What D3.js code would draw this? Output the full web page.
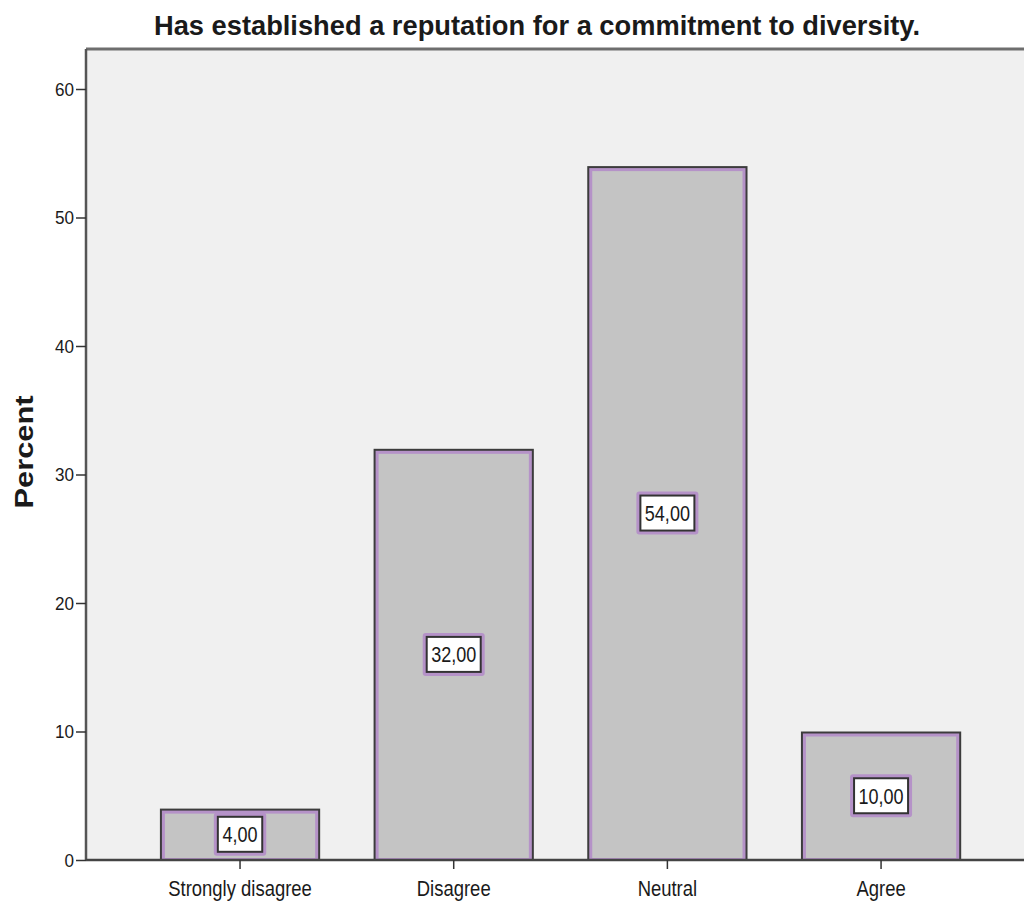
<!DOCTYPE html>
<html>
<head>
<meta charset="utf-8">
<script src="https://cdn.jsdelivr.net/npm/d3@7"></script>
<style>
  html, body { margin: 0; padding: 0; background: #ffffff; }
  svg { display: block; }
  text { font-family: "Liberation Sans", Arial, sans-serif; fill: #1a1a1a; }
</style>
</head>
<body>
<svg id="chart" width="1024" height="903"></svg>
<script>
// Response categories and their share of respondents (%)
const categories = ["Strongly disagree", "Disagree", "Neutral", "Agree"];
const percents = [4, 32, 54, 10];
const yTicks = [0, 10, 20, 30, 40, 50, 60];
const chartTitle = "Has established a reputation for a commitment to diversity.";
const yTitle = "Percent";

const svg = d3.select("#chart");
const W = 1024, H = 903;

const frame = { left: 86, top: 49, right: 1030, bottom: 860 };

const y = d3.scaleLinear().domain([0, 60]).range([860, 89]);
const x = d3.scaleBand()
  .domain(categories)
  .range([133.2, 987.9])
  .paddingInner(0.25)
  .paddingOuter(0.125);

// Squeeze a text element horizontally around its own x anchor
function condense(sel, sx) {
  sel.each(function () {
    const t = d3.select(this);
    const x0 = +(t.attr("x") || 0);
    t.attr("x", x0 / sx).attr("transform", `scale(${sx},1)`);
  });
}

// Plot background
svg.append("rect")
  .attr("x", frame.left).attr("y", frame.top)
  .attr("width", frame.right - frame.left).attr("height", frame.bottom - frame.top)
  .attr("fill", "#f0f0f0");

// Top frame edge
svg.append("line")
  .attr("x1", frame.left).attr("x2", W)
  .attr("y1", frame.top).attr("y2", frame.top)
  .attr("stroke", "#6e6e6e").attr("stroke-width", 3);

// Bars
const bars = svg.append("g");
categories.forEach((c, i) => {
  const x0 = x(c), bw = x.bandwidth();
  const y0 = y(percents[i]), h = y(0) - y(percents[i]);
  // outer dark edge
  bars.append("rect")
    .attr("x", x0).attr("y", y0).attr("width", bw).attr("height", h)
    .attr("fill", "#3c3c3c");
  // purple inner border
  bars.append("rect")
    .attr("x", x0 + 2).attr("y", y0 + 2).attr("width", bw - 4).attr("height", h - 2)
    .attr("fill", "#b592c8");
  // grey fill
  bars.append("rect")
    .attr("x", x0 + 5).attr("y", y0 + 5).attr("width", bw - 10).attr("height", Math.max(0, h - 7))
    .attr("fill", "#c4c4c4");
});

// Y axis
const yAxis = d3.axisLeft(y).tickValues(yTicks).tickSize(10).tickPadding(2).tickFormat(d3.format("d"));
const gy = svg.append("g").attr("transform", `translate(${frame.left},0)`).call(yAxis);
gy.select(".domain").attr("stroke", "#555").attr("stroke-width", 2.5).attr("d", `M0,${frame.top}V${frame.bottom}`);
gy.selectAll(".tick line").attr("stroke", "#333").attr("stroke-width", 1.5);
gy.selectAll(".tick text").attr("font-size", 19).attr("fill", "#333").call(condense, 0.9);

// X axis
const xAxis = d3.axisBottom(x).tickSize(9).tickPadding(11);
const gx = svg.append("g").attr("transform", `translate(0,${frame.bottom})`).call(xAxis);
gx.select(".domain").attr("stroke", "#444").attr("stroke-width", 2.5).attr("d", `M${frame.left},0H${W}`);
gx.selectAll(".tick line").attr("stroke", "#333").attr("stroke-width", 1.5);
gx.selectAll(".tick text").attr("font-size", 22).attr("fill", "#222").call(condense, 0.84);

// Value labels at bar midpoints
const fmt = v => d3.format(".2f")(v).replace(".", ",");
const labels = svg.append("g");
categories.forEach((c, i) => {
  const cx = x(c) + x.bandwidth() / 2;
  const cy = y(percents[i] / 2);
  const txt = fmt(percents[i]);
  const bw = txt.length * 9.6 + 6, bh = 35;
  labels.append("rect")
    .attr("x", cx - bw / 2 - 4).attr("y", cy - bh / 2 - 4)
    .attr("width", bw + 8).attr("height", bh + 8).attr("rx", 3)
    .attr("fill", "#b592c8");
  labels.append("rect")
    .attr("x", cx - bw / 2).attr("y", cy - bh / 2)
    .attr("width", bw).attr("height", bh)
    .attr("fill", "#ffffff").attr("stroke", "#333").attr("stroke-width", 2);
  labels.append("text")
    .attr("x", cx).attr("y", cy).attr("dy", "0.36em")
    .attr("text-anchor", "middle").attr("font-size", 22).attr("fill", "#222")
    .text(txt)
    .call(condense, 0.82);
});

// Title
svg.append("text")
  .attr("x", 537).attr("y", 35)
  .attr("text-anchor", "middle")
  .attr("font-size", 27).attr("font-weight", "bold")
  .attr("textLength", 766).attr("lengthAdjust", "spacingAndGlyphs")
  .text(chartTitle);

// Y axis title
svg.append("text")
  .attr("transform", "translate(33,452) rotate(-90)")
  .attr("text-anchor", "middle")
  .attr("font-size", 26).attr("font-weight", "bold")
  .attr("textLength", 113).attr("lengthAdjust", "spacingAndGlyphs")
  .text(yTitle);
</script>
</body>
</html>
